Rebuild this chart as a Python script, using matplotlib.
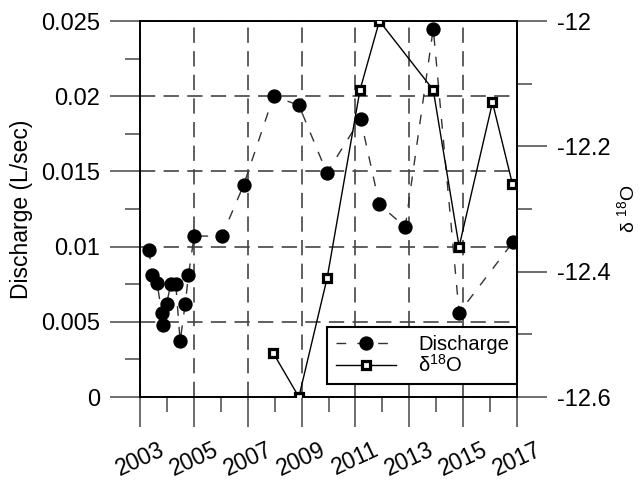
import numpy as np
import matplotlib
matplotlib.use("Agg")
import matplotlib.pyplot as plt
from matplotlib.ticker import MultipleLocator, FixedLocator, FixedFormatter

plt.rcParams["font.family"] = ["Liberation Sans", "DejaVu Sans"]
plt.rcParams["mathtext.fontset"] = "custom"
plt.rcParams["mathtext.rm"] = "Liberation Sans"
plt.rcParams["mathtext.it"] = "Liberation Sans:italic"
plt.rcParams["lines.scale_dashes"] = False

# Discharge (L/sec), decimal year
q_year = [2003.34, 2003.44, 2003.63, 2003.81, 2003.84, 2003.99, 2004.14, 2004.33,
          2004.49, 2004.68, 2004.80, 2005.01, 2006.04, 2006.85, 2007.96, 2008.90,
          2009.94, 2011.19, 2011.89, 2012.85, 2013.89, 2014.85, 2016.85]
q_val = [0.0098, 0.0081, 0.0076, 0.0056, 0.0048, 0.0062, 0.0075, 0.0075,
         0.0037, 0.0062, 0.0081, 0.0107, 0.0107, 0.0141, 0.0200, 0.0194,
         0.0149, 0.0185, 0.0128, 0.0113, 0.0245, 0.0056, 0.0103]

# delta 18O
o_year = [2007.95, 2008.90, 2009.95, 2011.17, 2011.89, 2013.89, 2014.85, 2016.09, 2016.83]
o_val = [-12.53, -12.60, -12.41, -12.11, -12.00, -12.11, -12.36, -12.13, -12.26]

x_ticks = [2003, 2005, 2007, 2009, 2011, 2013, 2015, 2017]
y_ticks = [0, 0.005, 0.01, 0.015, 0.02, 0.025]
y_labels = ["0", "0.005", "0.01", "0.015", "0.02", "0.025"]
y2_ticks = [-12.6, -12.4, -12.2, -12.0]
y2_labels = ["-12.6", "-12.4", "-12.2", "-12"]

fig = plt.figure(figsize=(6.44, 4.82), dpi=100)
ax = fig.add_axes([140 / 644, 1 - 397 / 482, 377 / 644, 376 / 482])
ax2 = ax.twinx()

tick_kw = dict(direction="out", color="#555555", width=1.2)
grid_kw = dict(color="#444444", linewidth=1.2, linestyle=(0, (11, 6)))

# left axis: discharge
ax.plot(q_year, q_val, color="#333333", lw=1.0, linestyle=(0, (7, 8)),
        marker="o", ms=9.3, mfc="black", mec="black", zorder=3, label="Discharge")
ax.set_xlim(2003, 2017)
ax.set_ylim(0, 0.025)
ax.xaxis.set_major_locator(FixedLocator(x_ticks))
ax.xaxis.set_minor_locator(MultipleLocator(1))
ax.yaxis.set_major_locator(FixedLocator(y_ticks))
ax.yaxis.set_major_formatter(FixedFormatter(y_labels))
ax.yaxis.set_minor_locator(MultipleLocator(0.0025))
ax.tick_params(which="major", length=21.6, **tick_kw)
ax.tick_params(which="minor", length=10.8, **tick_kw)
ax.tick_params(axis="y", labelsize=17, pad=7)
ax.tick_params(axis="x", labelsize=16.5, pad=8)
for lab in ax.get_xticklabels():
    lab.set_rotation(25)
    lab.set_ha("center")
ax.grid(True, which="major", **grid_kw)
ax.set_axisbelow(True)
ax.set_ylabel("Discharge (L/sec)", fontsize=16.5, labelpad=6)

# right axis: delta 18O
ax2.plot(o_year, o_val, color="black", lw=1.0, marker="s", ms=6.2,
         mfc="white", mec="black", mew=2.3, zorder=4, label=r"δ$^{18}$O")
ax2.set_ylim(-12.6, -12.0)
ax2.yaxis.set_major_locator(FixedLocator(y2_ticks))
ax2.yaxis.set_major_formatter(FixedFormatter(y2_labels))
ax2.yaxis.set_minor_locator(MultipleLocator(0.1))
ax2.tick_params(which="major", length=21.6, **tick_kw)
ax2.tick_params(which="minor", length=10.8, **tick_kw)
ax2.tick_params(axis="y", labelsize=17, pad=7)
ax2.set_ylabel(r"δ $^{18}$O", fontsize=14, rotation=90, labelpad=4)

for a in (ax, ax2):
    for s in a.spines.values():
        s.set_linewidth(1.2)
        s.set_color("black")

h1, l1 = ax.get_legend_handles_labels()
h2, l2 = ax2.get_legend_handles_labels()
leg = ax2.legend(h1 + h2, l1 + l2, loc="lower right", bbox_to_anchor=(1.0, 0.035),
                 borderaxespad=0, fontsize=14.5, handlelength=3.0, handletextpad=1.1,
                 labelspacing=0.0, borderpad=0.4, fancybox=False, framealpha=1)
leg.get_frame().set_edgecolor("black")
leg.get_frame().set_linewidth(1.5)

fig.savefig("out.png", dpi=100)
